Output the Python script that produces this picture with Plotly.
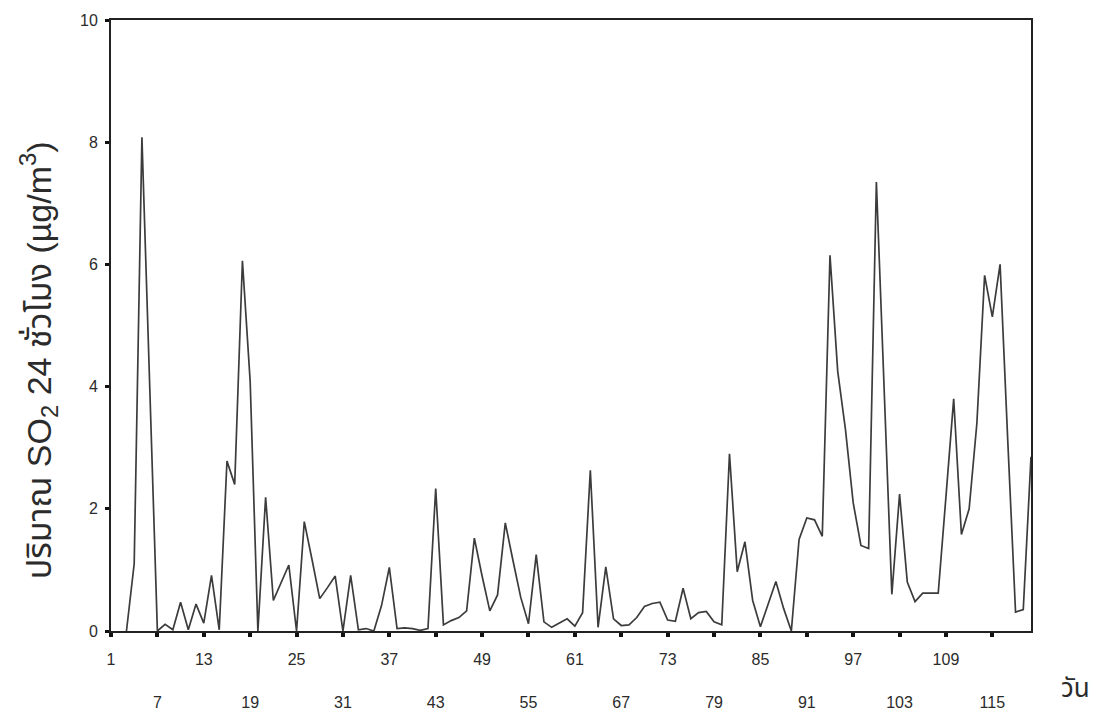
import plotly.graph_objects as go

# ---- data ----
days = list(range(3, 121))
so2 = [
    0.00, 1.10, 8.08, 4.05, 0.00, 0.11, 0.02, 0.47, 0.02, 0.44,   # 3-12
    0.13, 0.91, 0.02, 2.78, 2.40, 6.06, 4.09, 0.00, 2.19, 0.50,   # 13-22
    0.79, 1.08, 0.00, 1.79, 1.17, 0.53, 0.71, 0.90, 0.00, 0.91,   # 23-32
    0.02, 0.04, 0.00, 0.42, 1.04, 0.04, 0.05, 0.04, 0.01, 0.04,   # 33-42
    2.33, 0.10, 0.17, 0.22, 0.33, 1.52, 0.90, 0.33, 0.59, 1.77,   # 43-52
    1.15, 0.55, 0.12, 1.25, 0.15, 0.06, 0.13, 0.20, 0.08, 0.30,   # 53-62
    2.63, 0.06, 1.05, 0.20, 0.09, 0.10, 0.22, 0.40, 0.45, 0.47,   # 63-72
    0.18, 0.16, 0.70, 0.20, 0.30, 0.32, 0.15, 0.10, 2.90, 0.97,   # 73-82
    1.46, 0.50, 0.07, 0.45, 0.81, 0.37, 0.00, 1.50, 1.85, 1.82,   # 83-92
    1.55, 6.15, 4.25, 3.30, 2.10, 1.40, 1.35, 7.35, 4.00, 0.60,   # 93-102
    2.24, 0.80, 0.48, 0.62, 0.62, 0.62, 2.20, 3.80, 1.58, 2.00,   # 103-112
    3.40, 5.82, 5.14, 6.00, 3.10, 0.31, 0.35, 2.85,               # 113-120
]
upper_ticks = [1, 13, 25, 37, 49, 61, 73, 85, 97, 109]
lower_ticks = [7, 19, 31, 43, 55, 67, 79, 91, 103, 115]
y_ticks = [0, 2, 4, 6, 8, 10]

y_title = "ปริมาณ SO<sub>2</sub> 24 ชั่วโมง (µg/m<sup>3</sup>)"
x_title = "วัน"

font_family = "Liberation Sans, Arial, Noto Sans Thai, DejaVu Sans, sans-serif"
text_col = "#2b2b2b"

fig = go.Figure()
fig.add_trace(go.Scatter(
    x=days, y=so2, mode="lines",
    line=dict(color="#3c3c3c", width=1.7),
    showlegend=False, hoverinfo="x+y",
))
# invisible trace so the second (label-only) x axis is drawn
fig.add_trace(go.Scatter(
    x=[days[0]], y=[None], xaxis="x2", mode="lines",
    showlegend=False, hoverinfo="skip",
))

# page body has an 8px default margin; figure sized to fit the window
fig.update_layout(
    width=1096, height=702,
    margin=dict(l=103, r=73, t=12, b=79),
    paper_bgcolor="white", plot_bgcolor="white",
    font=dict(family=font_family, size=15, color=text_col),
    xaxis=dict(
        range=[1, 120], tickvals=upper_ticks,
        ticktext=[str(t) for t in upper_ticks],
        ticks="outside", ticklen=4, tickwidth=4, tickcolor="#111",
        minor=dict(tick0=1, dtick=6, ticks="outside", ticklen=4,
                   tickwidth=4, tickcolor="#111", showgrid=False),
        showline=True, linecolor="#222", linewidth=2, mirror=True,
        showgrid=False, zeroline=False, automargin=False,
        ticklabelstandoff=9,
        tickfont=dict(size=16, color=text_col),
    ),
    xaxis2=dict(
        range=[1, 120], overlaying="x", anchor="y", side="bottom",
        tickvals=lower_ticks, ticktext=[str(t) for t in lower_ticks],
        ticks="", showline=False, showgrid=False, zeroline=False,
        automargin=False,
        ticklabelstandoff=60,
        tickfont=dict(size=16, color=text_col),
    ),
    yaxis=dict(
        range=[0, 10], tickvals=y_ticks, ticktext=[str(t) for t in y_ticks],
        ticks="outside", ticklen=4, tickwidth=3, tickcolor="#111",
        showline=True, linecolor="#222", linewidth=2, mirror=True,
        showgrid=False, zeroline=False, automargin=False,
        ticklabelstandoff=4,
        tickfont=dict(size=16, color=text_col),
    ),
    annotations=[
        dict(text=y_title, xref="paper", yref="paper",
             x=-0.079, y=0.4435, textangle=-90, showarrow=False,
             xanchor="center", yanchor="middle",
             font=dict(size=34, color=text_col)),
        dict(text=x_title, xref="paper", yref="paper",
             x=1.048, y=-0.093, showarrow=False,
             xanchor="center", yanchor="middle",
             font=dict(size=26, color=text_col)),
    ],
)

fig.write_html("out.html")
